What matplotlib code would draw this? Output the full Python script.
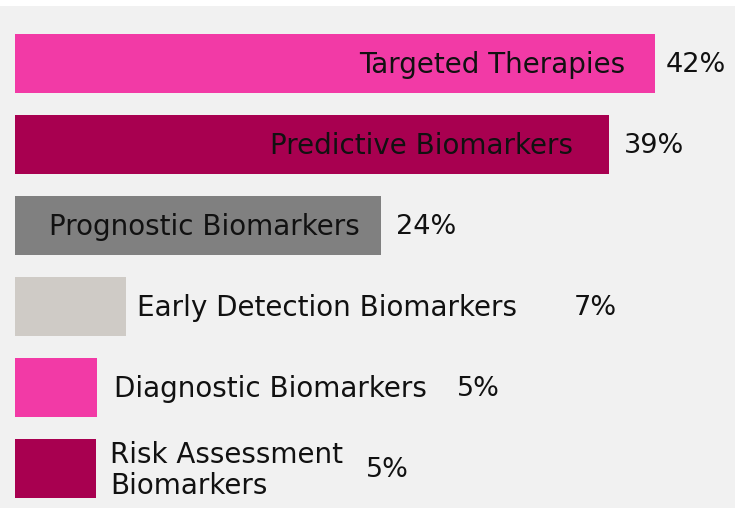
import numpy as np
import matplotlib.pyplot as plt

# data
categories = ['Targeted Therapies', 'Predictive Biomarkers', 'Prognostic Biomarkers',
              'Early Detection Biomarkers', 'Diagnostic Biomarkers',
              'Risk Assessment\nBiomarkers']
values = [42, 39, 24, 7.3, 5.4, 5.3]
pct_labels = ['42%', '39%', '24%', '7%', '5%', '5%']
colors = ['#f23aa6', '#a80050', '#808080', '#cfcbc6', '#f23aa6', '#a80050']

# layout (pixel offsets from bar end)
inside = [True, True, True, False, False, False]
name_off = [-30, -36, -21, 11, 17, 14]
pct_off = [11, 15, 15, 448, 360, 270]

plt.rcParams['font.family'] = ['DejaVu Sans']

fig = plt.figure(figsize=(7.35, 5.08), dpi=100, facecolor='white')
ax = fig.add_axes([0, 0, 1, 502 / 508])
ax.set_facecolor('#f1f1f1')

y = np.arange(len(values))
ax.barh(y, values, height=0.73, color=colors)

for i, v in enumerate(values):
    ax.annotate(categories[i], (v, i), xytext=(name_off[i], -2),
                textcoords='offset pixels', ha='right' if inside[i] else 'left',
                va='center', fontsize=20, color='#111111', linespacing=1.12)
    ax.annotate(pct_labels[i], (v, i), xytext=(pct_off[i], -2),
                textcoords='offset pixels', ha='left', va='center',
                fontsize=19.5, color='#111111')

ax.set_xlim(-0.984, 47.25)
ax.set_ylim(5.49, -0.71)
ax.set_xticks([])
ax.set_yticks([])
for s in ax.spines.values():
    s.set_visible(False)

fig.savefig('out.png', dpi=100, facecolor='white')
